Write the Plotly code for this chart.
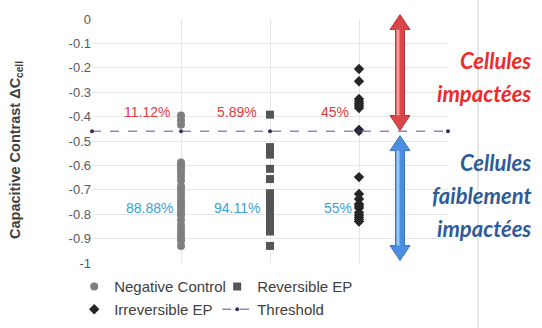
import plotly.graph_objects as go

# Capacitive contrast per cell, grouped by treatment
negative_control = [-0.396, -0.415, -0.433,
                    -0.588, -0.600, -0.612, -0.625, -0.643, -0.662, -0.686, -0.700,
                    -0.714, -0.730, -0.748, -0.760, -0.769, -0.785, -0.795, -0.803,
                    -0.823, -0.844, -0.862, -0.878, -0.894, -0.908, -0.930]
reversible_ep = [-0.392,
                 -0.525, -0.539, -0.556, -0.614, -0.656, -0.714, -0.730, -0.748,
                 -0.766, -0.782, -0.799, -0.817, -0.834, -0.853, -0.871, -0.930]
irreversible_ep = [-0.205, -0.255, -0.328, -0.338, -0.347, -0.356, -0.365, -0.455, -0.458,
                   -0.648, -0.717, -0.738, -0.758, -0.766, -0.775, -0.793, -0.803,
                   -0.812, -0.822, -0.830]
group_x = [1, 2, 3]
threshold_value = -0.46
threshold_x = [0, 1, 2, 3, 4]

pct_above = ["11.12%", "5.89%", "45%"]
pct_below = ["88.88%", "94.11%", "55%"]
pct_above_y = -0.38
pct_below_y = -0.775
pct_right_x = [0.90, 1.88, 2.91]

y_ticks = [0, -0.1, -0.2, -0.3, -0.4, -0.5, -0.6, -0.7, -0.8, -0.9, -1]
y_tick_text = ["0", "-0.1", "-0.2", "-0.3", "-0.4", "-0.5", "-0.6", "-0.7", "-0.8", "-0.9", "-1"]

Y_MIN, Y_MAX = -1.0, 0.0
W, H = 542, 328
ML, MR, MT, MB = 92, 94, 19, 65
PW = W - ML - MR
PH = H - MT - MB

RED = "#e8383d"
BLUE = "#3d9fd6"

fig = go.Figure()

fig.add_trace(go.Scatter(
    x=[group_x[0]] * len(negative_control), y=negative_control, mode="markers",
    name="Negative Control", legend="legend",
    marker=dict(symbol="circle", size=8, color="#7f7f7f"),
))
fig.add_trace(go.Scatter(
    x=[group_x[1]] * len(reversible_ep), y=reversible_ep, mode="markers",
    name="Reversible EP", legend="legend",
    marker=dict(symbol="square", size=8, color="#555555"),
))
fig.add_trace(go.Scatter(
    x=[group_x[2]] * len(irreversible_ep), y=irreversible_ep, mode="markers",
    name="Irreversible EP", legend="legend2",
    marker=dict(symbol="diamond", size=8, color="#262626"),
))
fig.add_trace(go.Scatter(
    x=threshold_x, y=[threshold_value] * len(threshold_x), mode="lines+markers",
    name="Threshold", cliponaxis=False, legend="legend2",
    line=dict(color="#9a7fd0", width=1.3, dash="dash"),
    marker=dict(symbol="circle", size=4, color="#3a2d5c"),
))

# Percentages of cells above / below the threshold
for xr, ta, tb in zip(pct_right_x, pct_above, pct_below):
    fig.add_annotation(x=xr, y=pct_above_y, text=ta, showarrow=False, xanchor="right",
                       font=dict(family="Liberation Sans, Arial", size=14, color=RED))
    fig.add_annotation(x=xr + 0.03, y=pct_below_y, text=tb, showarrow=False, xanchor="right",
                       font=dict(family="Liberation Sans, Arial", size=14, color=BLUE))


def to_paper_y(v):
    return (v - Y_MIN) / (Y_MAX - Y_MIN)


def double_arrow(xc_px, v_top, v_bot, shaft=4.5, head=10.0, head_len=15.0):
    """Vertical double-headed arrow path in paper coordinates."""
    cx = (xc_px - ML) / PW
    sx = shaft / PW
    hx = head / PW
    hl = head_len / PH
    yt = to_paper_y(v_top)
    yb = to_paper_y(v_bot)
    pts = [
        (cx, yt), (cx + hx, yt - hl), (cx + sx, yt - hl), (cx + sx, yb + hl),
        (cx + hx, yb + hl), (cx, yb), (cx - hx, yb + hl), (cx - sx, yb + hl),
        (cx - sx, yt - hl), (cx - hx, yt - hl),
    ]
    return "M " + " L ".join(f"{x:.5f},{y:.5f}" for x, y in pts) + " Z"


def shaft_highlight(xc_px, v_top, v_bot, head_len=15.0):
    cx = (xc_px - ML) / PW
    x0 = cx - 3.5 / PW
    x1 = cx - 0.5 / PW
    hl = head_len / PH
    return dict(type="rect", xref="paper", yref="paper", x0=x0, x1=x1,
                y0=to_paper_y(v_bot) + hl, y1=to_paper_y(v_top) - hl, line=dict(width=0))


arrow_x = 400
red_top = 0.018
blue_bot = -0.99
fig.add_shape(type="path", xref="paper", yref="paper",
              path=double_arrow(arrow_x, red_top, threshold_value + 0.003),
              fillcolor="#d9464a", line=dict(color="#b8373b", width=1))
fig.add_shape(**shaft_highlight(arrow_x, red_top, threshold_value + 0.003), fillcolor="#f29a9a")
fig.add_shape(type="path", xref="paper", yref="paper",
              path=double_arrow(arrow_x, threshold_value - 0.018, blue_bot),
              fillcolor="#4b8ee0", line=dict(color="#3a74c0", width=1))
fig.add_shape(**shaft_highlight(arrow_x, threshold_value - 0.018, blue_bot), fillcolor="#9cc6f4")

# Side captions
label_font = dict(family="Lato, Open Sans", size=22)
for txt, ypx, col in [("Cellules", 60, "#ee2b2b"), ("impactées", 93, "#ee2b2b"),
                      ("Cellules", 162, "#2f5c99"), ("faiblement", 195, "#2f5c99"),
                      ("impactées", 228, "#2f5c99")]:
    fig.add_annotation(xref="paper", yref="paper", x=(533 - ML) / PW, y=(H - MB - ypx) / PH,
                       text=f"<b><i>{txt}</i></b>", showarrow=False, xanchor="right",
                       yanchor="middle", font=dict(color=col, **label_font))

# Divider on the right
fig.add_shape(type="line", xref="paper", yref="paper",
              x0=(478 - ML) / PW, x1=(478 - ML) / PW, y0=-MB / PH, y1=(PH + MT) / PH,
              line=dict(color="#cfcfcf", width=1))

# Axis title
fig.add_annotation(xref="paper", yref="paper", x=(16 - ML) / PW, y=(H - MB - 150) / PH,
                   text="<b>Capacitive Contrast ΔC<sub>cell</sub></b>", textangle=-90,
                   showarrow=False, xanchor="center", yanchor="middle",
                   font=dict(family="Liberation Sans, Arial", size=14.5, color="#404040"))

legend_style = dict(orientation="h", x=-0.05, xanchor="left", yanchor="top",
                    entrywidth=98, entrywidthmode="pixels", tracegroupgap=0,
                    font=dict(family="Liberation Sans, Arial", size=15, color="#404040"),
                    itemwidth=30, bgcolor="rgba(0,0,0,0)")

fig.update_layout(
    width=W, height=H,
    margin=dict(l=ML, r=MR, t=MT, b=MB, autoexpand=False),
    paper_bgcolor="white", plot_bgcolor="white",
    showlegend=True,
    legend=dict(y=-0.03, **legend_style),
    legend2=dict(y=-0.123, **legend_style),
    xaxis=dict(range=[0, 4], dtick=1, tick0=0, showticklabels=False, showgrid=True,
               gridcolor="#e6e6e6", gridwidth=1, zeroline=False, showline=False, ticks=""),
    yaxis=dict(range=[Y_MIN, Y_MAX], tickvals=y_ticks, ticktext=y_tick_text, showgrid=True,
               gridcolor="#e6e6e6", gridwidth=1, zeroline=False, showline=False, ticks="",
               tickfont=dict(family="Liberation Sans, Arial", size=13, color="#595959")),
)

fig.write_html("out.html")
